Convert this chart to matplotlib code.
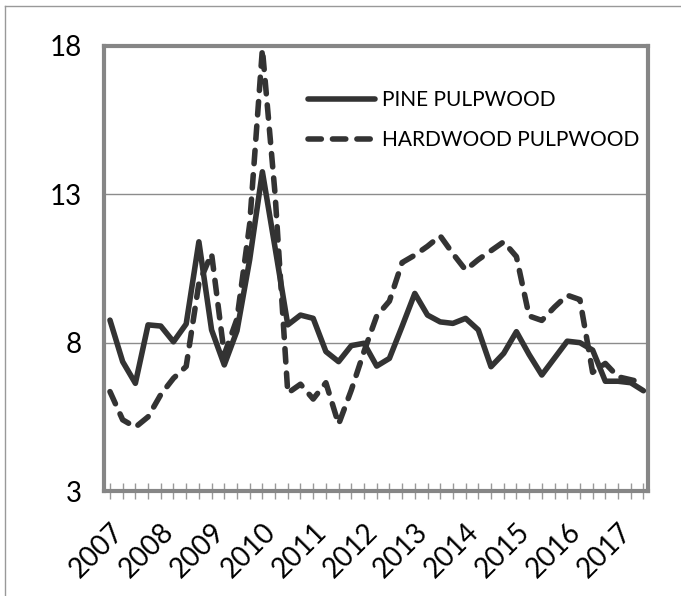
import matplotlib
matplotlib.use('Agg')
import matplotlib.pyplot as plt
from matplotlib.lines import Line2D

# quarterly prices, 2007 Q1 .. 2017 Q3
years = ['2007', '2008', '2009', '2010', '2011', '2012',
         '2013', '2014', '2015', '2016', '2017']
pine = [8.76, 7.36, 6.63, 8.6, 8.56, 8.03, 8.63, 11.4, 8.43, 7.25,
        8.4, 10.8, 13.76, 11.2, 8.6, 8.93, 8.82, 7.7, 7.36, 7.9,
        7.98, 7.21, 7.47, 8.55, 9.66, 8.93, 8.7, 8.65, 8.82, 8.43,
        7.19, 7.64, 8.37, 7.6, 6.91, 7.48, 8.05, 8.0, 7.75, 6.7,
        6.7, 6.65, 6.38]
hardwood = [6.35, 5.4, 5.15, 5.5, 6.25, 6.8, 7.2, 10.0, 11.0, 7.6,
            8.8, 12.0, 17.9, 13.0, 6.3, 6.6, 6.1, 6.65, 5.25, 6.4,
            7.7, 8.9, 9.4, 10.7, 10.95, 11.25, 11.6, 11.0, 10.45, 10.8,
            11.1, 11.4, 10.9, 8.9, 8.75, 9.2, 9.6, 9.45, 7.0, 7.3,
            6.85, 6.75, 6.65]

W, H = 681, 596
plt.rcParams['font.family'] = ['Lato', 'DejaVu Sans']

fig = plt.figure(figsize=(W / 100, H / 100), dpi=100)
ax = fig.add_axes([104 / W, 1 - 491 / H, (648 - 104) / W, (491 - 46) / H])

line_color = '#333333'
frame_color = '#868686'
x = list(range(len(pine)))

ax.plot(x, pine, color=line_color, lw=4, solid_capstyle='round',
        solid_joinstyle='round', label='PINE PULPWOOD', zorder=3)
ax.plot(x, hardwood, color=line_color, lw=4, linestyle=(0, (2.4, 2.0)),
        dash_capstyle='round', dash_joinstyle='round',
        label='HARDWOOD PULPWOOD', zorder=3)

ax.set_ylim(3, 18)
ax.set_yticks([3, 8, 13, 18])
ax.tick_params(axis='y', length=0, pad=16, labelsize=20)

ax.set_xlim(-0.47, 42.36)
ax.set_xticks(range(0, 41, 4))
ax.set_xticklabels(years, rotation=45, ha='right', va='top',
                   rotation_mode='anchor')
ax.set_xticks(x, minor=True)
ax.tick_params(axis='x', which='both', direction='inout', length=11,
               width=1, color='#999999', labelsize=20, pad=14.5)

ax.grid(axis='y', color='#8c8c8c', lw=1)
ax.set_axisbelow(True)
for s in ax.spines.values():
    s.set_color(frame_color)
    s.set_linewidth(3)

ax.legend(loc='upper left', bbox_to_anchor=(308 / W, 1 - 90 / H),
          bbox_transform=fig.transFigure, frameon=False, fontsize=15,
          handlelength=3.2, handletextpad=0.35, labelspacing=0.95,
          borderpad=0, borderaxespad=0)

# outer frame of the picture
fig.add_artist(Line2D([4.5 / W, 4.5 / W], [0, 1 - 6 / H], color='#999999', lw=1))
fig.add_artist(Line2D([4.5 / W, 1], [1 - 6 / H, 1 - 6 / H], color='#999999', lw=1))

fig.savefig('out.png', dpi=100)
